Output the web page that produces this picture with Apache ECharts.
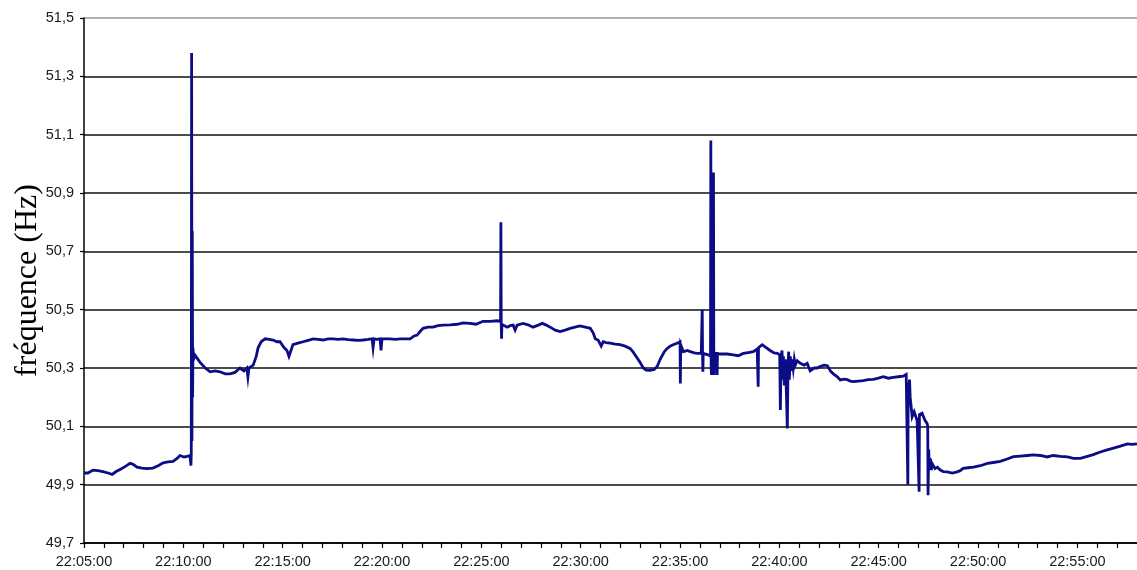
<!DOCTYPE html>
<html>
<head>
<meta charset="utf-8">
<script src="https://cdn.jsdelivr.net/npm/echarts@6/dist/echarts.min.js"></script>
<style>
html,body{margin:0;padding:0;background:#fff;}
#chart{width:1137px;height:570px;}
</style>
</head>
<body>
<div id="chart"></div>
<script>
// Time stamps (hh:mm:ss) and frequency readings (Hz)
const times = [
"22:05:00","22:05:12","22:05:27","22:05:42","22:05:57","22:06:13","22:06:25","22:06:37","22:06:49","22:07:04",
"22:07:19","22:07:28","22:07:40","22:07:55","22:08:10","22:08:28","22:08:44","22:08:59","22:09:14","22:09:29",
"22:09:41","22:09:50","22:10:02","22:10:11","22:10:20","22:10:22","22:10:23","22:10:24","22:10:25","22:10:26",
"22:10:27","22:10:28","22:10:29","22:10:31","22:10:35","22:10:50","22:11:06","22:11:21","22:11:36","22:11:51",
"22:12:06","22:12:21","22:12:36","22:12:51","22:13:03","22:13:12","22:13:15","22:13:18","22:13:31","22:13:40",
"22:13:46","22:13:55","22:14:07","22:14:19","22:14:31","22:14:43","22:14:52","22:15:04","22:15:13","22:15:19",
"22:15:25","22:15:31","22:15:46","22:16:02","22:16:17","22:16:32","22:16:47","22:17:02","22:17:17","22:17:32",
"22:17:47","22:18:02","22:18:18","22:18:33","22:18:48","22:19:03","22:19:18","22:19:30","22:19:33","22:19:36",
"22:19:45","22:19:54","22:19:57","22:20:00","22:20:12","22:20:24","22:20:40","22:20:55","22:21:10","22:21:25",
"22:21:37","22:21:46","22:21:55","22:22:04","22:22:19","22:22:34","22:22:49","22:23:05","22:23:26","22:23:47",
"22:24:05","22:24:26","22:24:44","22:25:05","22:25:27","22:25:48","22:25:58","22:25:59","22:26:00","22:26:01",
"22:26:02","22:26:06","22:26:18","22:26:27","22:26:36","22:26:42","22:26:48","22:27:06","22:27:21","22:27:36",
"22:27:52","22:28:04","22:28:16","22:28:28","22:28:43","22:28:58","22:29:13","22:29:28","22:29:43","22:29:58",
"22:30:14","22:30:29","22:30:38","22:30:44","22:30:53","22:30:59","22:31:02","22:31:08","22:31:17","22:31:29",
"22:31:44","22:31:59","22:32:14","22:32:29","22:32:38","22:32:47","22:32:59","22:33:09","22:33:18","22:33:30",
"22:33:42","22:33:51","22:34:00","22:34:12","22:34:21","22:34:30","22:34:39","22:34:51","22:35:00","22:35:01",
"22:35:02","22:35:10","22:35:22","22:35:31","22:35:43","22:35:52","22:36:04","22:36:07","22:36:08","22:36:09",
"22:36:10","22:36:16","22:36:25","22:36:32","22:36:33","22:36:34","22:36:35","22:36:36","22:36:38","22:36:40",
"22:36:41","22:36:42","22:36:43","22:36:44","22:36:51","22:36:52","22:36:53","22:37:01","22:37:22","22:37:41",
"22:37:56","22:38:11","22:38:26","22:38:41","22:38:53","22:38:55","22:38:56","22:38:57","22:39:02","22:39:08",
"22:39:20","22:39:32","22:39:44","22:39:54","22:40:01","22:40:03","22:40:05","22:40:08","22:40:10","22:40:12",
"22:40:15","22:40:18","22:40:21","22:40:24","22:40:26","22:40:28","22:40:30","22:40:33","22:40:36","22:40:39",
"22:40:42","22:40:45","22:40:48","22:40:54","22:41:03","22:41:15","22:41:24","22:41:33","22:41:45","22:41:54",
"22:42:03","22:42:15","22:42:25","22:42:34","22:42:43","22:42:55","22:43:04","22:43:16","22:43:25","22:43:34",
"22:43:43","22:43:58","22:44:13","22:44:28","22:44:44","22:44:59","22:45:14","22:45:29","22:45:44","22:45:59",
"22:46:14","22:46:23","22:46:27","22:46:28","22:46:29","22:46:31","22:46:33","22:46:35","22:46:41","22:46:47",
"22:46:56","22:47:01","22:47:02","22:47:03","22:47:11","22:47:20","22:47:26","22:47:28","22:47:29","22:47:31",
"22:47:33","22:47:36","22:47:39","22:47:41","22:47:50","22:47:57","22:48:06","22:48:15","22:48:27","22:48:42",
"22:48:57","22:49:06","22:49:15","22:49:30","22:49:46","22:50:07","22:50:28","22:50:46","22:51:07","22:51:28",
"22:51:47","22:52:08","22:52:29","22:52:47","22:53:08","22:53:29","22:53:47","22:54:09","22:54:30","22:54:48",
"22:55:09","22:55:30","22:55:48","22:56:09","22:56:30","22:56:49","22:57:10","22:57:31","22:57:46","22:58:00"
];
const freq = [
49.94,49.94,49.95,49.948,49.945,49.94,49.935,49.945,49.952,49.962,
49.973,49.97,49.96,49.957,49.955,49.957,49.965,49.975,49.978,49.98,
49.99,50.00,49.995,49.997,50.00,50.00,49.965,50.01,51.38,50.05,
50.77,50.20,50.37,50.33,50.344,50.32,50.30,50.287,50.29,50.287,
50.28,50.28,50.285,50.30,50.29,50.30,50.27,50.30,50.31,50.34,
50.37,50.39,50.40,50.398,50.396,50.39,50.39,50.37,50.36,50.34,
50.36,50.38,50.385,50.39,50.395,50.40,50.398,50.396,50.40,50.40,
50.398,50.40,50.397,50.396,50.395,50.396,50.398,50.40,50.37,50.40,
50.398,50.40,50.36,50.40,50.40,50.40,50.398,50.40,50.40,50.40,
50.41,50.413,50.425,50.436,50.44,50.44,50.445,50.447,50.448,50.45,
50.455,50.453,50.45,50.46,50.46,50.462,50.46,50.80,50.45,50.40,
50.45,50.45,50.44,50.445,50.447,50.43,50.447,50.453,50.448,50.44,
50.447,50.453,50.447,50.44,50.43,50.425,50.43,50.436,50.44,50.444,
50.44,50.436,50.42,50.40,50.395,50.39,50.375,50.39,50.387,50.385,
50.382,50.38,50.375,50.367,50.355,50.34,50.32,50.30,50.293,50.292,
50.295,50.305,50.33,50.355,50.367,50.375,50.38,50.385,50.39,50.247,
50.38,50.356,50.36,50.356,50.352,50.35,50.35,50.50,50.35,50.287,
50.35,50.35,50.345,50.34,51.08,50.30,50.276,50.34,50.35,50.36,
50.97,50.33,50.276,50.35,50.35,50.276,50.35,50.348,50.348,50.345,
50.342,50.35,50.353,50.356,50.365,50.367,50.236,50.37,50.373,50.38,
50.37,50.36,50.352,50.35,50.345,50.156,50.33,50.36,50.26,50.34,
50.24,50.33,50.22,50.093,50.30,50.356,50.26,50.34,50.29,50.33,
50.30,50.33,50.31,50.325,50.316,50.31,50.316,50.29,50.30,50.30,
50.305,50.31,50.308,50.29,50.28,50.27,50.259,50.262,50.26,50.255,
50.253,50.255,50.257,50.26,50.261,50.265,50.27,50.265,50.268,50.27,
50.272,50.278,50.28,49.90,50.25,50.22,50.26,50.20,50.133,50.15,
50.12,50.12,49.876,50.14,50.145,50.12,50.11,50.10,49.864,50.02,
49.95,49.99,49.95,49.973,49.955,49.96,49.95,49.945,49.944,49.94,
49.944,49.948,49.956,49.958,49.96,49.965,49.973,49.976,49.98,49.988,
49.996,49.998,50.00,50.002,50.00,49.995,50.00,49.997,49.995,49.99,
49.99,49.997,50.003,50.012,50.019,50.025,50.032,50.04,50.038,50.04
];
const startTime = "22:05:00";
const endTime = "22:58:00";

function toSec(s){const p=s.split(':').map(Number);return p[0]*3600+p[1]*60+p[2];}
const t0 = toSec(startTime);
const seriesData = times.map((t,i)=>[toSec(t)-t0, freq[i]]);
function fmtTime(v){
  const s=t0+Math.round(v);
  const h=Math.floor(s/3600), m=Math.floor((s%3600)/60), ss=s%60;
  const p=n=>String(n).padStart(2,'0');
  return p(h)+':'+p(m)+':'+p(ss);
}

const chart = echarts.init(document.getElementById('chart'), null, {renderer:'canvas'});
chart.setOption({
  animation:false,
  backgroundColor:'#ffffff',
  grid:{left:84, right:0, top:18, bottom:27, containLabel:false, outerBoundsMode:'none'},
  xAxis:{
    type:'value',
    min:0, max:toSec(endTime)-t0, interval:60,
    axisLine:{show:true, onZero:false, lineStyle:{color:'#000', width:1.5}},
    axisTick:{show:true, length:5, lineStyle:{color:'#000', width:1.2}},
    axisLabel:{
      color:'#1a1a1a', fontFamily:'Liberation Sans, Arial, sans-serif', fontSize:14.5, margin:11,
      formatter:v=> (Math.round(v)%300===0 ? fmtTime(v) : ''),
      showMaxLabel:false
    },
    splitLine:{show:false}
  },
  yAxis:{
    type:'value',
    min:49.7, max:51.5, interval:0.2,
    name:'fréquence (Hz)',
    nameLocation:'middle', nameRotate:90, nameGap:40, nameMoveOverlap:false,
    nameTextStyle:{fontFamily:'Liberation Serif, Times New Roman, serif', fontSize:32, color:'#000'},
    axisLine:{show:true, lineStyle:{color:'#000', width:1.5}},
    axisTick:{show:true, length:4, lineStyle:{color:'#000', width:1.2}},
    axisLabel:{
      color:'#1a1a1a', fontFamily:'Liberation Sans, Arial, sans-serif', fontSize:14.5, margin:10,
      formatter:v=>v.toFixed(1).replace('.',',')
    },
    splitLine:{show:true, lineStyle:{color:['#000','#111','#111','#111','#111','#111','#111','#111','#111','#999'], width:1.6}}
  },
  series:[{
    type:'line',
    data:seriesData,
    showSymbol:false,
    symbol:'none',
    sampling:false,
    lineStyle:{color:'#0c0c86', width:2.8, join:'miter'},
    z:5
  }]
});
</script>
</body>
</html>
